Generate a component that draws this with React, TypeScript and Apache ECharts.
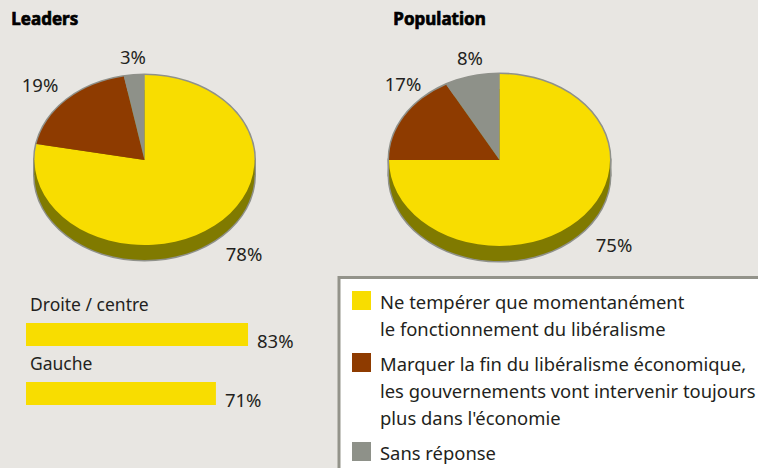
import React, { useEffect, useRef } from "react";
import * as echarts from "echarts";

// ---- data ----
const legendCategories = [
  "Ne tempérer que momentanément\nle fonctionnement du libéralisme",
  "Marquer la fin du libéralisme économique,\nles gouvernements vont intervenir toujours\nplus dans l'économie",
  "Sans réponse",
];
const leadersValues = [78, 19, 3];
const populationValues = [75, 17, 8];
const pieTitles = ["Leaders", "Population"];
const barCategories = ["Droite / centre", "Gauche"];
const barValues = [83, 71];

// ---- styles / layout ----
const sliceColors = ["#f8dd00", "#8e3b00", "#8e9189"];
const sideColor = "#807a00";
const outlineColor = "#8f918a";
const bg = "#e8e6e2";
const textColor = "#231f20";
const FONT = "Noto Sans";

const pieLayouts = [
  { cx: 144.5, cy: 160, rx: 110, ry: 85, depth: 15, titleX: 10, labelPos: [[244, 253], [40, 84], [133, 56]] },
  { cx: 499.5, cy: 160, rx: 110.5, ry: 86, depth: 15, titleX: 392, labelPos: [[614, 244], [403, 83], [470, 57]] },
];

function pieSeries(values: number[], lay: any) {
  const total = values.reduce((a, b) => a + b, 0);
  return {
    type: "custom",
    coordinateSystem: "none",
    silent: true,
    data: values.map((v, i) => [v, i]),
    renderItem: (params: any, api: any) => {
      const idx = params.dataIndex;
      const v = api.value(0);
      let before = 0;
      for (let k = 0; k < idx; k++) before += values[k];
      const a0 = -Math.PI / 2 + (2 * Math.PI * before) / total;
      const a1 = -Math.PI / 2 + (2 * Math.PI * (before + v)) / total;
      const children: any[] = [];
      if (idx === 0) {
        const sil = { fill: outlineColor, stroke: outlineColor, lineWidth: 3 };
        children.push(
          // grey silhouette (outline)
          { type: "ellipse", z2: 1, shape: { cx: lay.cx, cy: lay.cy + lay.depth, rx: lay.rx, ry: lay.ry }, style: sil },
          { type: "rect", z2: 1, shape: { x: lay.cx - lay.rx, y: lay.cy, width: lay.rx * 2, height: lay.depth }, style: sil },
          { type: "ellipse", z2: 1, shape: { cx: lay.cx, cy: lay.cy, rx: lay.rx, ry: lay.ry }, style: sil },
          // olive side
          { type: "ellipse", z2: 2, shape: { cx: lay.cx, cy: lay.cy + lay.depth, rx: lay.rx, ry: lay.ry }, style: { fill: sideColor } },
          { type: "rect", z2: 2, shape: { x: lay.cx - lay.rx, y: lay.cy, width: lay.rx * 2, height: lay.depth }, style: { fill: sideColor } }
        );
      }
      children.push({
        type: "group",
        x: lay.cx,
        y: lay.cy,
        scaleY: lay.ry / lay.rx,
        children: [
          { type: "sector", z2: 10, shape: { cx: 0, cy: 0, r: lay.rx, r0: 0, startAngle: a0, endAngle: a1, clockwise: true }, style: { fill: sliceColors[idx] } },
        ],
      });
      const lp = lay.labelPos[idx];
      children.push({
        type: "text",
        z2: 20,
        x: lp[0],
        y: lp[1],
        style: { text: v + "%", fill: textColor, fontFamily: FONT, fontSize: 18.5, align: "center", verticalAlign: "middle" },
      });
      return { type: "group", children };
    },
  };
}

export default function App() {
  const ref = useRef<HTMLDivElement>(null);
  useEffect(() => {
    document.body.style.margin = "0";
    const chart = echarts.init(ref.current!, null, { renderer: "svg" });

    const graphics: any[] = [];
    pieTitles.forEach((t, i) => {
      graphics.push({
        type: "text",
        left: pieLayouts[i].titleX + 1,
        top: 10,
        style: { text: t, fill: "#000", fontFamily: FONT, fontWeight: "bold", fontSize: 17, stroke: "#000", lineWidth: 0.7 },
      });
    });
    // legend box
    graphics.push({
      type: "rect",
      shape: { x: 339, y: 277.5, width: 440, height: 210 },
      style: { fill: "#ffffff", stroke: "#93938a", lineWidth: 3 },
      z: 0,
    });
    let y = 287.5;
    legendCategories.forEach((c, i) => {
      const lines = c.split("\n").length;
      graphics.push({
        type: "rect",
        shape: { x: 352, y: y + 3.5, width: 19, height: 19 },
        style: { fill: sliceColors[i] },
        z: 1,
      });
      graphics.push({
        type: "text",
        x: 380,
        y: y,
        style: { text: c, fill: textColor, fontFamily: FONT, fontSize: 18.4, lineHeight: 27, verticalAlign: "top" },
        z: 1,
      });
      y += lines * 27 + 8;
    });

    chart.setOption({
      animation: false,
      backgroundColor: bg,
      graphic: graphics,
      grid: { left: 26, top: 305, width: 267.5, height: 118 },
      xAxis: { type: "value", min: 0, max: 100, show: false },
      yAxis: { type: "category", data: barCategories, inverse: true, show: false },
      series: [
        pieSeries(leadersValues, pieLayouts[0]),
        pieSeries(populationValues, pieLayouts[1]),
        {
          type: "bar",
          data: barValues,
          barWidth: 23,
          itemStyle: { color: sliceColors[0] },
          label: {
            show: true,
            position: "right",
            distance: 9,
            offset: [0, 6],
            formatter: "{c}%",
            color: textColor,
            fontFamily: FONT,
            fontSize: 18.5,
          },
        },
        {
          // category names above each bar
          type: "bar",
          data: barValues,
          barWidth: 23,
          barGap: "-100%",
          silent: true,
          itemStyle: { color: "rgba(0,0,0,0)" },
          label: {
            show: true,
            position: [4, -19],
            formatter: "{b}",
            color: textColor,
            fontFamily: FONT,
            fontSize: 17.5,
            verticalAlign: "middle",
          },
        },
      ],
    });
    return () => chart.dispose();
  }, []);
  return <div ref={ref} style={{ position: "absolute", left: 0, top: 0, width: 758, height: 468 }} />;
}
